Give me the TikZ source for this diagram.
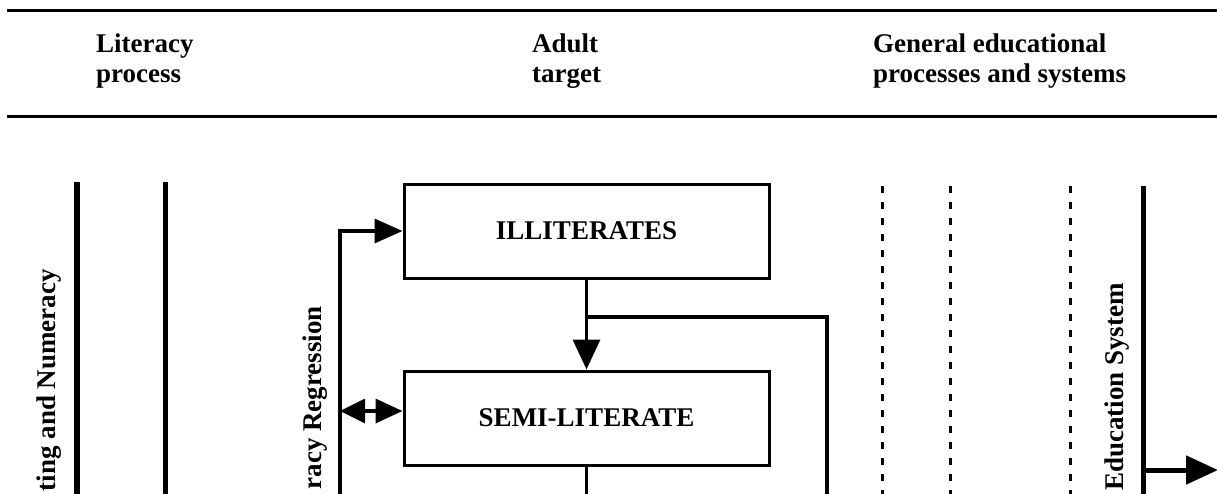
\documentclass[tikz,border=0pt]{standalone}
\usepackage{fontspec}
\setmainfont{Liberation Serif}
\usetikzlibrary{arrows.meta}
\begin{document}
\begin{tikzpicture}[x=1pt,y=-1pt,
  lbl/.style={font=\fontsize{27}{30}\selectfont\bfseries, inner sep=0pt},
  hdr/.style={lbl, align=left, anchor=north west},
  vtext/.style={lbl, rotate=90, anchor=base east},
  stage/.style={draw, line width=3pt, minimum width=365pt, minimum height=94pt, inner sep=0pt, font=\fontsize{27}{30}\selectfont\bfseries},
  conn/.style={line width=3.5pt},
  tip/.style={-{Triangle[length=28pt,width=24pt]}},
  rulel/.style={line width=3pt},
  solidv/.style={line width=5pt},
  dashv/.style={line width=3pt, dash pattern=on 7pt off 9pt},
]
\useasboundingbox (0,0) rectangle (1217,493);
\fill[white] (0,0) rectangle (1217,493);
\clip (0,0) rectangle (1217,493);

% horizontal rules of the header
\coordinate (r1a) at (7,10);  \coordinate (r1b) at (1220,10);
\coordinate (r2a) at (7,116); \coordinate (r2b) at (1220,116);
\draw[rulel] (r1a) -- (r1b);
\draw[rulel] (r2a) -- (r2b);

% header texts
\node[hdr] (h1) at (96,34)  {Literacy\\process};
\node[hdr] (h2) at (532,34) {Adult\\target};
\node[hdr] (h3) at (873,34) {General educational\\processes and systems};

% vertical lines
\coordinate (v1t) at (77,182);   \coordinate (v1b) at (77,500);
\coordinate (v2t) at (165.5,182); \coordinate (v2b) at (165.5,500);
\draw[line width=5.5pt] (v1t) -- (v1b);
\draw[line width=4.5pt] (v2t) -- (v2b);

\coordinate (d1t) at (882,186);  \coordinate (d1b) at (882,500);
\coordinate (d2t) at (950,186);  \coordinate (d2b) at (950,500);
\coordinate (d3t) at (1070,186); \coordinate (d3b) at (1070,500);
\draw[dashv] (d1t) -- (d1b);
\draw[dashv] (d2t) -- (d2b);
\draw[dashv] (d3t) -- (d3b);

\coordinate (edt) at (1143,186); \coordinate (edb) at (1143,500);
\draw[solidv] (edt) -- (edb);

% rotated labels
\node[vtext] (t1) at (55,269)   {ting and Numeracy};
\node[vtext] (t2) at (321,306)  {racy Regression};
\node[vtext] (t3) at (1123,283) {Education System};

% stages
\node[stage] (illit) at (586.5,231) {ILLITERATES};
\node[stage] (semi)  at (586.5,418) {SEMI-LITERATE};

% connectors
\coordinate (fb) at (340,500);
\draw[conn,tip] (fb) |- (illit.west);

\coordinate (dbl) at (340,411);
\draw[conn,{Triangle[length=25pt,width=24pt]}-{Triangle[length=27pt,width=24pt]}] (dbl) -- (dbl -| semi.west);

\draw[conn,{Triangle[length=30pt,width=27pt]}-] (semi.north) -- (illit.south);

\coordinate (br) at (586.5,317); \coordinate (brEnd) at (827,500);
\draw[conn] (br) -| (brEnd);

\coordinate (semiOut) at (586.5,500);
\draw[conn] (semi.south) -- (semiOut);

\coordinate (eduA) at (1143,470); \coordinate (eduB) at (1218,470);
\draw[line width=5pt,-{Triangle[length=32pt,width=28pt]}] (eduA) -- (eduB);
\end{tikzpicture}
\end{document}
